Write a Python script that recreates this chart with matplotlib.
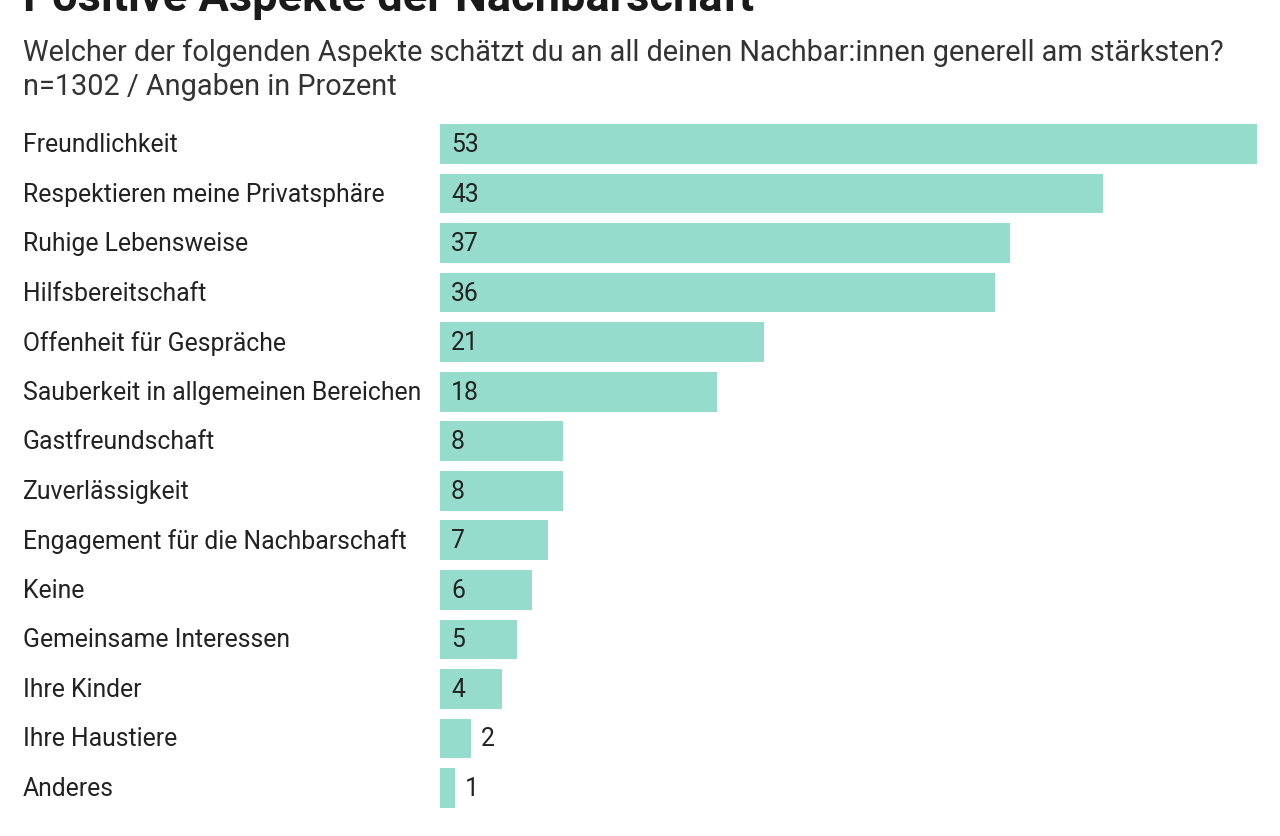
import matplotlib
matplotlib.use("Agg")
import matplotlib.pyplot as plt

categories = ["Freundlichkeit", "Respektieren meine Privatsphäre", "Ruhige Lebensweise",
              "Hilfsbereitschaft", "Offenheit für Gespräche", "Sauberkeit in allgemeinen Bereichen",
              "Gastfreundschaft", "Zuverlässigkeit", "Engagement für die Nachbarschaft", "Keine",
              "Gemeinsame Interessen", "Ihre Kinder", "Ihre Haustiere", "Anderes"]
values = [53, 43, 37, 36, 21, 18, 8, 8, 7, 6, 5, 4, 2, 1]

title = "Positive Aspekte der Nachbarschaft"
subtitle1 = "Welcher der folgenden Aspekte schätzt du an all deinen Nachbar:innen generell am stärksten?"
subtitle2 = "n=1302 / Angaben in Prozent"

plt.rcParams['font.family'] = ['Roboto', 'DejaVu Sans']
W, H = 1280, 837
fig = plt.figure(figsize=(W/100, H/100), dpi=100)
fig.patch.set_facecolor("white")

left, right = 440/W, 1257/W
top, bottom = 1 - 120.25/H, 1 - 813.75/H
ax = fig.add_axes([left, bottom, right-left, top-bottom])
ypos = list(range(len(categories)))
ax.barh(ypos, values, height=0.8, color="#96DCCC")
ax.set_xlim(0, 53)
ax.set_ylim(len(categories)-0.5, -0.5)
ax.axis("off")

for y, (c, v) in enumerate(zip(categories, values)):
    ax.annotate(c, (0, y), xytext=(-(440-23)*0.72, 0), textcoords="offset points",
                ha="left", va="center", fontsize=17.8, color="#222222")
    if v >= 3:
        ax.annotate(str(v), (0, y), xytext=(8, 0), textcoords="offset points",
                    ha="left", va="center", fontsize=17.8, color="#222222")
    else:
        ax.annotate(str(v), (v, y), xytext=(7, 0), textcoords="offset points",
                    ha="left", va="center", fontsize=17.8, color="#222222")

fig.text(23/W, 1 - 11/H, title, ha="left", va="baseline", fontsize=32.5, fontweight="bold", color="#1a1a1a")
fig.text(23/W, 1 - 61/H, subtitle1, ha="left", va="baseline", fontsize=20.8, color="#333333")
fig.text(23/W, 1 - 95/H, subtitle2, ha="left", va="baseline", fontsize=20.8, color="#333333")

fig.savefig("out.png", dpi=100, facecolor="white")
